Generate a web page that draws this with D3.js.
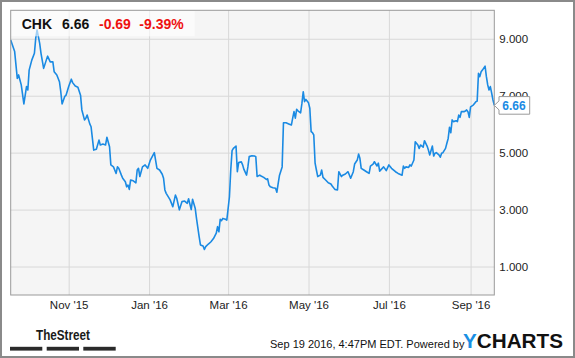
<!DOCTYPE html>
<html><head><meta charset="utf-8">
<script src="https://cdn.jsdelivr.net/npm/d3@7/dist/d3.min.js"></script>
<style>
html,body{margin:0;padding:0;background:#fff;}
svg{display:block;font-family:"Liberation Sans",Arial,sans-serif;}
</style></head><body>
<svg id="chart" width="575" height="358"></svg>
<script>
// ---- data ----
const ticker = "CHK";
const lastPrice = "6.66";
const change = "-0.69";
const changePct = "-9.39%";
const footerText = "Sep 19 2016, 4:47PM EDT. Powered by";
const yTicks = [1, 3, 5, 7, 9];
const xTickDates = ["2015-11-01","2016-01-01","2016-03-01","2016-05-01","2016-07-01","2016-09-01"];
const dates = [
"2015-09-18","2015-09-21","2015-09-23","2015-09-24","2015-09-26","2015-09-28","2015-09-30","2015-10-01","2015-10-02","2015-10-04",
"2015-10-06","2015-10-07","2015-10-08","2015-10-10","2015-10-11","2015-10-13","2015-10-15","2015-10-16","2015-10-18","2015-10-20",
"2015-10-21","2015-10-23","2015-10-25","2015-10-26","2015-10-27","2015-10-29","2015-10-30","2015-11-01","2015-11-03","2015-11-04",
"2015-11-06","2015-11-08","2015-11-10","2015-11-11","2015-11-13","2015-11-14","2015-11-15","2015-11-17","2015-11-18","2015-11-19",
"2015-11-20","2015-11-22","2015-11-24","2015-11-25","2015-11-27","2015-11-29","2015-11-30","2015-12-02","2015-12-03","2015-12-05",
"2015-12-07","2015-12-08","2015-12-09","2015-12-11","2015-12-12","2015-12-14","2015-12-15","2015-12-16","2015-12-17","2015-12-18",
"2015-12-20","2015-12-22","2015-12-23","2015-12-24","2015-12-25","2015-12-27","2015-12-29","2015-12-31","2016-01-02","2016-01-05",
"2016-01-07","2016-01-09","2016-01-11","2016-01-12","2016-01-13","2016-01-14","2016-01-17","2016-01-19","2016-01-21","2016-01-22",
"2016-01-24","2016-01-26","2016-01-28","2016-01-30","2016-01-31","2016-02-02","2016-02-03","2016-02-05","2016-02-06","2016-02-08",
"2016-02-09","2016-02-11","2016-02-12","2016-02-13","2016-02-15","2016-02-17","2016-02-19","2016-02-21","2016-02-22","2016-02-23",
"2016-02-24","2016-02-25","2016-02-26","2016-02-28","2016-02-29","2016-03-02","2016-03-03","2016-03-04","2016-03-05","2016-03-07",
"2016-03-08","2016-03-09","2016-03-11","2016-03-12","2016-03-13","2016-03-15","2016-03-16","2016-03-17","2016-03-19","2016-03-21",
"2016-03-22","2016-03-23","2016-03-25","2016-03-26","2016-03-28","2016-03-30","2016-03-31","2016-04-01","2016-04-02","2016-04-04",
"2016-04-06","2016-04-07","2016-04-08","2016-04-09","2016-04-11","2016-04-12","2016-04-14","2016-04-16","2016-04-18","2016-04-19",
"2016-04-20","2016-04-21","2016-04-22","2016-04-23","2016-04-25","2016-04-26","2016-04-27","2016-04-28","2016-04-29","2016-05-01",
"2016-05-02","2016-05-03","2016-05-04","2016-05-05","2016-05-06","2016-05-07","2016-05-08","2016-05-10","2016-05-11","2016-05-12",
"2016-05-14","2016-05-16","2016-05-18","2016-05-19","2016-05-21","2016-05-23","2016-05-24","2016-05-26","2016-05-27","2016-05-29",
"2016-05-31","2016-06-02","2016-06-04","2016-06-05","2016-06-07","2016-06-08","2016-06-09","2016-06-10","2016-06-12","2016-06-14",
"2016-06-16","2016-06-17","2016-06-19","2016-06-20","2016-06-22","2016-06-23","2016-06-24","2016-06-27","2016-06-29","2016-07-01",
"2016-07-03","2016-07-06","2016-07-08","2016-07-11","2016-07-12","2016-07-13","2016-07-14","2016-07-16","2016-07-17","2016-07-18",
"2016-07-20","2016-07-21","2016-07-23","2016-07-24","2016-07-25","2016-07-27","2016-07-28","2016-07-30","2016-07-31","2016-08-01",
"2016-08-03","2016-08-04","2016-08-05","2016-08-06","2016-08-08","2016-08-09","2016-08-10","2016-08-11","2016-08-13","2016-08-14",
"2016-08-15","2016-08-16","2016-08-17","2016-08-18","2016-08-19","2016-08-21","2016-08-22","2016-08-23","2016-08-24","2016-08-25",
"2016-08-27","2016-08-28","2016-08-29","2016-08-30","2016-08-31","2016-09-01","2016-09-03","2016-09-04","2016-09-05","2016-09-06",
"2016-09-07","2016-09-08","2016-09-09","2016-09-10","2016-09-12","2016-09-13","2016-09-14","2016-09-15","2016-09-16","2016-09-17",
"2016-09-18","2016-09-19"
];
const prices = [
8.96,8.55,7.61,7.73,7.38,6.71,7.32,7.20,7.90,8.25,
8.49,9.02,9.31,8.84,8.49,7.96,8.25,8.39,8.19,8.19,
7.84,7.73,7.49,7.14,6.71,6.97,7.02,7.32,7.58,7.46,
7.34,7.30,7.02,6.50,6.15,6.21,6.32,6.01,5.91,5.50,
5.09,5.12,5.44,5.27,5.30,5.27,5.54,5.21,4.57,4.50,
4.27,4.50,4.45,4.21,4.10,3.98,3.80,3.86,3.71,4.04,
4.01,3.94,4.39,4.45,4.16,4.50,4.57,4.45,4.74,5.00,
4.45,4.39,4.24,4.10,3.69,3.57,3.34,3.10,3.51,3.40,
2.99,3.28,3.30,3.22,3.38,3.00,3.36,3.05,2.69,2.05,
1.76,1.72,1.60,1.70,1.79,1.87,1.99,2.17,2.40,2.22,
2.66,2.61,2.69,2.66,2.63,3.45,4.39,5.07,5.15,5.23,
4.33,4.65,4.68,4.57,4.41,4.21,4.50,4.86,4.89,4.88,
4.86,4.16,4.21,4.18,4.13,4.06,4.08,3.86,3.80,3.77,
3.75,3.61,3.92,4.21,4.50,6.05,6.05,6.01,5.97,6.21,
6.44,6.21,6.52,6.47,6.40,6.73,7.14,6.79,6.87,6.75,
6.56,5.74,5.70,5.62,4.63,4.39,4.16,4.21,4.39,4.13,
4.04,3.94,3.90,3.83,3.71,3.69,4.33,4.16,4.21,4.25,
4.33,4.10,4.33,4.60,4.74,4.95,4.80,4.45,4.39,4.33,
4.27,4.53,4.60,4.68,4.53,4.63,4.35,4.50,4.37,4.57,
4.45,4.33,4.27,4.21,4.53,4.45,4.50,4.48,4.57,4.53,
4.74,5.38,5.27,5.15,5.27,5.19,5.42,5.23,5.09,4.92,
5.23,4.88,4.98,5.00,4.92,4.84,4.98,5.00,5.15,5.33,
5.50,5.89,5.70,6.15,6.09,6.12,6.09,6.32,6.24,6.44,
6.44,6.46,6.50,6.44,6.24,6.61,6.67,6.73,6.79,6.81,
7.79,7.67,7.84,7.90,8.04,7.67,7.38,7.20,7.32,7.09,
6.85,6.66
];

// ---- drawing ----
const parse = d3.timeParse("%Y-%m-%d");
const data = dates.map((d, i) => ({date: parse(d), value: prices[i]}));
const svg = d3.select("#chart");

const plot = {left: 10.7, right: 494.3, top: 10.3, bottom: 295};
const x = d3.scaleTime()
  .domain([parse("2015-09-18"), parse("2016-09-19")])
  .range([plot.left, plot.right]);
const y = d3.scaleLinear().domain([0, 10]).range([plot.bottom, plot.top]);

// outer frame
svg.append("rect").attr("x", 1).attr("y", 1).attr("width", 573).attr("height", 356)
  .attr("fill", "#fff").attr("stroke", "#8a8a8a").attr("stroke-width", 2);

// plot background
svg.append("rect").attr("x", plot.left).attr("y", plot.top)
  .attr("width", plot.right - plot.left).attr("height", plot.bottom - plot.top)
  .attr("fill", "#f5f5f5");

// grid lines
const gridY = svg.append("g").attr("transform", `translate(${plot.left},0)`)
  .call(d3.axisLeft(y).tickValues(yTicks).tickSize(-(plot.right - plot.left)).tickFormat(""));
gridY.select(".domain").remove();
gridY.selectAll("line").attr("stroke", "#d8d8d8").attr("stroke-width", 1);

const gridX = svg.append("g").attr("transform", `translate(0,${plot.bottom})`)
  .call(d3.axisBottom(x).tickValues(xTickDates.map(parse)).tickSize(-(plot.bottom - plot.top)).tickFormat(""));
gridX.select(".domain").remove();
gridX.selectAll("line").attr("stroke", "#d8d8d8").attr("stroke-width", 1);

// price line
const line = d3.line().x(d => x(d.date)).y(d => y(d.value)).curve(d3.curveLinear);
svg.append("path").datum(data).attr("d", line)
  .attr("fill", "none").attr("stroke", "#1a8ae3").attr("stroke-width", 1.6)
  .attr("stroke-linejoin", "round");

// title backdrop
svg.append("rect").attr("x", plot.left).attr("y", plot.top)
  .attr("width", 184).attr("height", 26)
  .attr("fill", "#fff").attr("fill-opacity", 0.6);

// plot frame
svg.append("rect").attr("x", plot.left).attr("y", plot.top)
  .attr("width", plot.right - plot.left).attr("height", plot.bottom - plot.top)
  .attr("fill", "none").attr("stroke", "#999").attr("stroke-width", 1);

// y axis labels
const yAxis = svg.append("g").attr("transform", `translate(${plot.right},0)`)
  .call(d3.axisRight(y).tickValues(yTicks).tickSize(0).tickPadding(5).tickFormat(d3.format(".3f")));
yAxis.select(".domain").remove();
yAxis.selectAll("text").attr("font-size", "11.5px").attr("fill", "#222")
  .attr("font-family", "'Liberation Sans', Arial, sans-serif");

// x axis labels
const xAxis = svg.append("g").attr("transform", `translate(0,${plot.bottom})`)
  .call(d3.axisBottom(x).tickValues(xTickDates.map(parse)).tickSize(0).tickPadding(6)
    .tickFormat(d3.timeFormat("%b '%y")));
xAxis.select(".domain").remove();
xAxis.selectAll("text").attr("font-size", "11.5px").attr("fill", "#222")
  .attr("font-family", "'Liberation Sans', Arial, sans-serif");

// title
const title = svg.append("g").attr("font-size", "14px").attr("font-weight", "bold");
title.append("text").attr("x", 21.7).attr("y", 28.7).attr("fill", "#111").text(ticker);
title.append("text").attr("x", 62).attr("y", 28.7).attr("fill", "#111").text(lastPrice);
title.append("text").attr("x", 99).attr("y", 28.7).attr("fill", "#ee1111").text(change);
title.append("text").attr("x", 139.3).attr("y", 28.7).attr("fill", "#ee1111").text(changePct);

// last price flag
const last = data[data.length - 1];
const ly = y(last.value), lx = x(last.date);
const bx = lx + 4.7, bw = 30.7, bh = 17.6;
svg.append("path")
  .attr("d", `M${lx},${ly} L${bx},${ly - 4.5} L${bx},${ly - bh / 2} L${bx + bw},${ly - bh / 2} L${bx + bw},${ly + bh / 2} L${bx},${ly + bh / 2} L${bx},${ly + 4.5} Z`)
  .attr("fill", "#fff").attr("stroke", "#9a9a9a").attr("stroke-width", 1);
svg.append("text").attr("x", bx + 3.3).attr("y", ly + 4.3)
  .attr("font-size", "12px").attr("font-weight", "bold").attr("fill", "#1a8ae3")
  .text(d3.format(".2f")(last.value));

// footer
svg.append("text").attr("x", 36).attr("y", 340)
  .attr("font-family", "'Liberation Sans Narrow', 'Liberation Sans', Arial, sans-serif")
  .attr("font-weight", "bold").attr("font-size", "15px").attr("fill", "#1a1a1a")
  .attr("textLength", 54).attr("lengthAdjust", "spacingAndGlyphs")
  .text("TheStreet");
[[10, 42.3], [46.7, 79], [83.3, 115.7]].forEach(([a, b]) => {
  svg.append("rect").attr("x", a).attr("y", 346.8).attr("width", b - a).attr("height", 3.8).attr("fill", "#2a2a2a");
});
svg.append("text").attr("x", 270).attr("y", 348.3)
  .attr("font-size", "11px").attr("fill", "#111").text(footerText);
const yc = svg.append("text").attr("x", 463).attr("y", 348.3)
  .attr("font-size", "20px").attr("font-weight", "bold")
  .attr("textLength", 100).attr("lengthAdjust", "spacingAndGlyphs");
yc.append("tspan").attr("fill", "#1a8fe3").text("Y");
yc.append("tspan").attr("fill", "#111").text("CHARTS");
</script>
</body></html>
